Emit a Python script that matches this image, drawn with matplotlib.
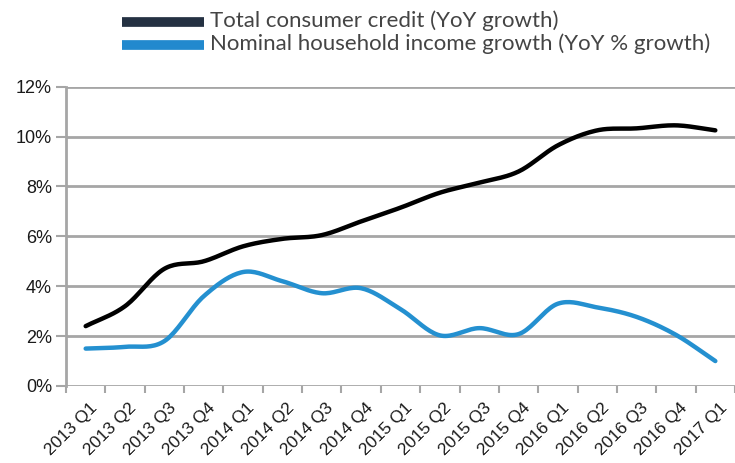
import matplotlib
matplotlib.use('Agg')
import matplotlib.pyplot as plt
from matplotlib.lines import Line2D
from matplotlib.ticker import FixedLocator, PercentFormatter
import numpy as np

quarters = ['2013 Q1', '2013 Q2', '2013 Q3', '2013 Q4',
            '2014 Q1', '2014 Q2', '2014 Q3', '2014 Q4',
            '2015 Q1', '2015 Q2', '2015 Q3', '2015 Q4',
            '2016 Q1', '2016 Q2', '2016 Q3', '2016 Q4', '2017 Q1']
consumer_credit = [2.4, 3.2, 4.7, 5.0, 5.6, 5.9, 6.05, 6.6, 7.15,
                   7.75, 8.15, 8.6, 9.65, 10.25, 10.33, 10.45, 10.25]
household_income = [1.5, 1.57, 1.8, 3.6, 4.57, 4.2, 3.72, 3.92, 3.08,
                     2.03, 2.32, 2.08, 3.3, 3.15, 2.77, 2.05, 1.0]

W, H = 735, 463


def smooth(x, y, n=20):
    # catmull-rom, roughly what excel does with "smoothed line"
    x = np.asarray(x, float)
    y = np.asarray(y, float)
    px = np.concatenate([[2 * x[0] - x[1]], x, [2 * x[-1] - x[-2]]])
    py = np.concatenate([[2 * y[0] - y[1]], y, [2 * y[-1] - y[-2]]])
    xs, ys = [], []
    t = np.linspace(0, 1, n, endpoint=False)
    for i in range(1, len(px) - 2):
        for p, out in ((px, xs), (py, ys)):
            p0, p1, p2, p3 = p[i - 1], p[i], p[i + 1], p[i + 2]
            out.extend(0.5 * (2 * p1 + (-p0 + p2) * t
                              + (2 * p0 - 5 * p1 + 4 * p2 - p3) * t ** 2
                              + (-p0 + 3 * p1 - 3 * p2 + p3) * t ** 3))
    xs.append(x[-1])
    ys.append(y[-1])
    return np.array(xs), np.array(ys)


plt.rcParams['font.family'] = ['Liberation Sans', 'DejaVu Sans']

fig = plt.figure(figsize=(W / 100, H / 100), dpi=100)
ax = fig.add_axes([66 / W, 1 - 386 / H, 1 - 66 / W, (386 - 86.7) / H])

grid_c = '#A6A6A6'
x = np.arange(len(quarters))

xs, ys = smooth(x, household_income)
ax.plot(xs, ys, color='#2490D0', lw=3.2, solid_capstyle='round', zorder=3)
xs, ys = smooth(x, consumer_credit)
ax.plot(xs, ys, color='black', lw=3.2, solid_capstyle='round', zorder=4)

ax.set_xlim(-0.5, len(quarters) - 0.5)
ax.set_ylim(0, 12)
ax.yaxis.set_major_locator(FixedLocator(np.arange(0, 13, 2)))
ax.yaxis.set_major_formatter(PercentFormatter(decimals=0))
ax.grid(axis='y', color=grid_c, lw=2)
ax.set_axisbelow(True)

ax.set_xticks(x + 0.1)
ax.set_xticklabels(quarters, rotation=45, ha='right', rotation_mode='anchor')
ax.set_xticks(np.arange(-0.5, len(quarters)), minor=True)
ax.tick_params(axis='x', which='major', length=0, pad=10, labelsize=12.5, colors='#1a1a1a')
ax.tick_params(axis='x', which='minor', length=5, width=1.5, color=grid_c)
ax.tick_params(axis='y', length=7, width=1.5, color=grid_c, pad=3, labelsize=13, labelcolor='#1a1a1a')

for s in ['top', 'right', 'bottom']:
    ax.spines[s].set_visible(False)
ax.spines['left'].set_color(grid_c)
ax.spines['left'].set_linewidth(2)

# legend sits above the plot, drawn by hand
legend = [('Total consumer credit (YoY growth)', '#243142', 22),
          ('Nominal household income growth (YoY % growth)', '#2289CE', 45)]
for label, c, ypix in legend:
    fig.add_artist(Line2D([122 / W, 204 / W], [1 - ypix / H, 1 - ypix / H],
                          color=c, lw=7, solid_capstyle='butt'))
    fig.text(210 / W, 1 - (ypix - 1) / H, label, fontsize=16, color='#444444',
             va='center', ha='left', family=['Lato', 'DejaVu Sans'])

fig.savefig('out.png', dpi=100)
